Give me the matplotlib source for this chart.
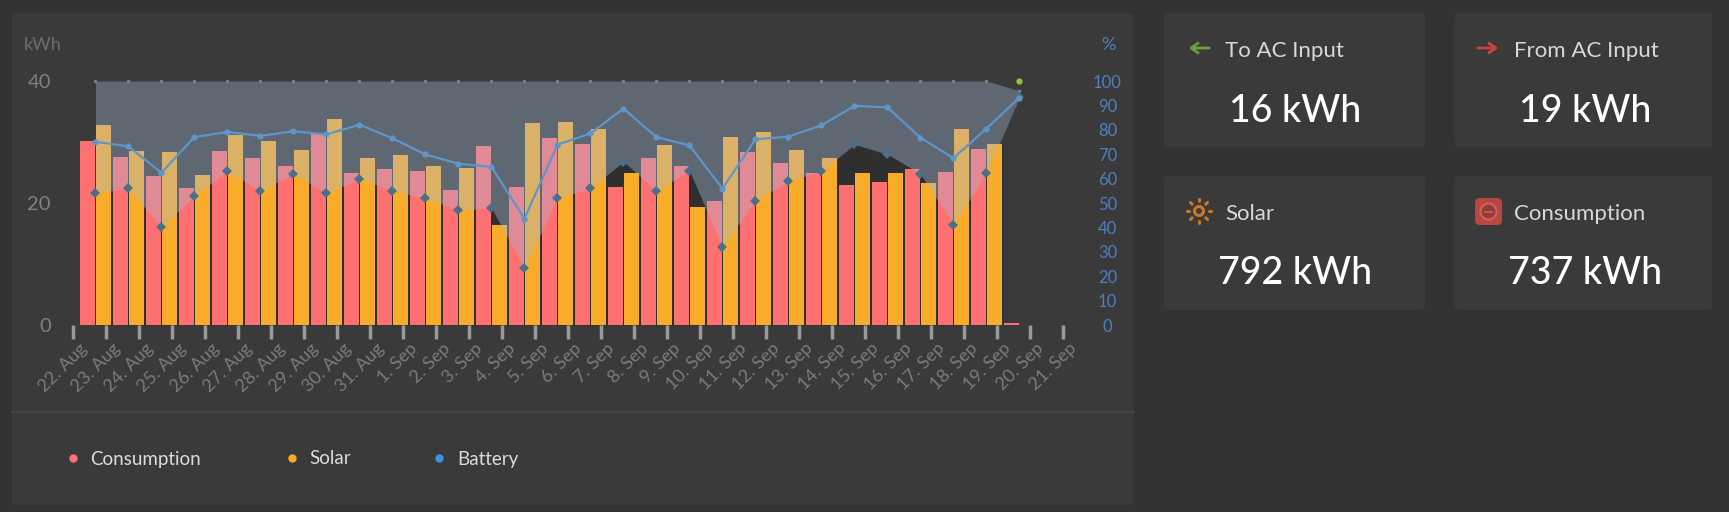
#!/usr/bin/env python3
# -*- coding: utf-8 -*-
import matplotlib
matplotlib.use('Agg')
from matplotlib import pyplot as plt
from matplotlib.patches import FancyBboxPatch, Circle
from matplotlib.transforms import ScaledTranslation

days = ['22. Aug', '23. Aug', '24. Aug', '25. Aug', '26. Aug', '27. Aug', '28. Aug', '29. Aug',
        '30. Aug', '31. Aug', '1. Sep', '2. Sep', '3. Sep', '4. Sep', '5. Sep', '6. Sep', '7. Sep',
        '8. Sep', '9. Sep', '10. Sep', '11. Sep', '12. Sep', '13. Sep', '14. Sep', '15. Sep',
        '16. Sep', '17. Sep', '18. Sep', '19. Sep', '20. Sep', '21. Sep']
consumption = [30.2, 27.5, 24.4, 22.4, 28.5, 27.3, 26.0, 31.3, 25.0, 25.5, 25.3, 22.1, 29.4, 22.7, 30.7,
               29.7, 22.7, 27.3, 26.1, 20.3, 28.3, 26.5, 25.0, 23.0, 23.4, 25.6, 25.1, 28.9, 0.4]
solar = [32.8, 28.6, 28.3, 24.6, 31.1, 30.2, 28.7, 33.8, 27.3, 27.8, 26.1, 25.8, 16.4, 33.1, 33.3,
         32.1, 24.9, 29.5, 19.3, 30.9, 31.6, 28.7, 27.3, 24.9, 25.0, 23.2, 32.1, 29.7, 0.0]
lower = [21.6, 22.4, 16.0, 21.2, 25.2, 22.0, 24.8, 21.6, 24.0, 22.0, 20.8, 18.8, 19.2, 9.3, 20.8,
         22.4, 26.8, 22.0, 25.3, 12.8, 20.4, 23.6, 25.2, 29.6, 28.0, 24.8, 16.4, 24.9, 37.3]
upper = [40.0] * 28 + [38.4]
battery = [75.1, 73.2, 62.4, 77.0, 79.1, 77.5, 79.4, 78.1, 82.1, 76.5, 69.9, 66.1, 64.8, 43.6, 73.9,
           78.5, 88.7, 77.0, 73.6, 55.9, 76.1, 77.2, 81.8, 89.8, 89.2, 76.8, 68.4, 80.5, 93.2]
ytick_left = [0, 20, 40]
ytick_right = [0, 10, 20, 30, 40, 50, 60, 70, 80, 90, 100]

W, H = 1729, 512
PAGE = '#333333'
PANEL = '#3a3a3a'
RED = '#ff7070'
ORANGE = '#f9ab2a'
BLUE = '#5f95c8'
plt.rcParams['font.family'] = ['Lato', 'DejaVu Sans']

fig = plt.figure(figsize=(W / 100, H / 100), dpi=100, facecolor=PAGE)

# page layer in pixels
bg = fig.add_axes([0, 0, 1, 1])
bg.set_xlim(0, W)
bg.set_ylim(H, 0)
bg.axis('off')


def panel(x0, y0, x1, y1):
    bg.add_patch(FancyBboxPatch((x0 + 4, y0 + 4), x1 - x0 - 8, y1 - y0 - 8,
                                boxstyle='round,pad=4,rounding_size=4', fc=PANEL, ec='none'))


panel(12, 13, 1134, 505)
panel(1164, 13, 1425, 147)
panel(1454, 13, 1712, 147)
panel(1164, 176, 1425, 310)
panel(1454, 176, 1712, 310)
bg.plot([12, 1134], [412, 412], color='#454545', lw=1.5)


def card(xt, xv, yt, yv, title, value):
    bg.text(xt, yt, title, color='#d8d8d8', fontsize=16, va='center', ha='left')
    bg.text(xv, yv, value, color='#ffffff', fontsize=27, va='center', ha='center', fontweight='medium')


card(1225, 1295, 51, 111, 'To AC Input', '16 kWh')
card(1514, 1585, 51, 111, 'From AC Input', '19 kWh')
card(1225, 1295, 214, 274, 'Solar', '792 kWh')
card(1514, 1585, 214, 274, 'Consumption', '737 kWh')

# card icons
bg.annotate('', xy=(1186, 48), xytext=(1212, 48),
            arrowprops=dict(arrowstyle='->,head_width=0.35,head_length=0.5', color='#6f9e3f', lw=2))
bg.annotate('', xy=(1501, 48), xytext=(1475, 48),
            arrowprops=dict(arrowstyle='->,head_width=0.35,head_length=0.5', color='#c8453f', lw=2))
bg.add_patch(Circle((1199, 211), 4.5, fc='none', ec='#c87828', lw=2.2))
for dx, dy in [(0, -12), (0, 12), (12, 0), (-12, 0), (8.5, 8.5), (-8.5, 8.5), (8.5, -8.5), (-8.5, -8.5)]:
    bg.plot([1199 + dx * 0.8, 1199 + dx], [211 + dy * 0.8, 211 + dy],
            color='#c87828', lw=2.2, solid_capstyle='round')
bg.add_patch(FancyBboxPatch((1479, 202), 19, 19, boxstyle='round,pad=4,rounding_size=5',
                            fc='#b8473f', ec='none'))
bg.add_patch(Circle((1488.5, 211.5), 8, fc='#8f3f3a', ec='#d0605a', lw=1.5))
bg.plot([1485, 1492], [211.5, 211.5], color='#d0605a', lw=1.2)

# legend
for x, c, xt, name in [(73, RED, 90, 'Consumption'), (292, ORANGE, 309, 'Solar'), (439, '#3f8fe8', 457, 'Battery')]:
    bg.plot([x], [458], 'o', color=c, ms=6, mew=0)
    bg.text(xt, 459, name, color='#dcdcdc', fontsize=13.5, va='center', ha='left')

# chart, x axis runs in tick steps: 22. Aug = 0
ax = fig.add_axes([73 / W, 1 - 325 / H, 990 / W, 244 / H], facecolor='none')
ax.set_xlim(0, 30)
ax.set_ylim(0, 40)
for s in ax.spines.values():
    s.set_visible(False)

xs = [i + 0.68 for i in range(len(consumption))]
ax.fill_between(xs[:-1], 0, lower[:-1], color='#2f2f2f', lw=0, zorder=1)
ax.vlines(xs[27] + 0.51, 0, solar[27], color='#2b3542', lw=1.5, zorder=1)
ax.bar([x - 0.24 for x in xs], consumption, width=0.45, color=RED, zorder=2)
ax.bar([x + 0.25 for x in xs], solar, width=0.46, color=ORANGE, zorder=2)
ax.fill_between(xs, lower, upper, color='#a4bddd', alpha=0.35, lw=0, zorder=3)
ax.plot(xs, upper, 'o', color='#7a8288', ms=2.5, mew=0, zorder=4, clip_on=False)
ax.plot(xs, lower, 'D', color='#4a6f8a', ms=5, mew=0, zorder=4, clip_on=False)
ax.plot(xs[-1], 40, 'o', color='#8fc13c', ms=4.5, mew=0, zorder=5, clip_on=False)

ax.set_xticks(range(len(days)))
ax.set_xticklabels(days, rotation=45, ha='right', rotation_mode='anchor', color='#7b7b7b', fontsize=13)
ax.tick_params(axis='x', length=10, width=2.5, color='#9a9a9a', pad=1)
shift = ScaledTranslation(4 / 72, 0, fig.dpi_scale_trans)
for lb in ax.get_xticklabels():
    lb.set_transform(lb.get_transform() + shift)
ax.set_yticks(ytick_left)
ax.tick_params(axis='y', length=0, labelcolor='#808080', labelsize=14.5, pad=16)

ax2 = ax.twinx()
ax2.set_xlim(0, 30)
ax2.set_ylim(0, 100)
for s in ax2.spines.values():
    s.set_visible(False)
ax2.plot(xs, battery, '-o', color=BLUE, lw=1.6, ms=4.5, mew=0, zorder=6, clip_on=False)
ax2.set_yticks(ytick_right)
ax2.tick_params(axis='y', length=0, labelcolor='#4f7fc0', labelsize=12, pad=32)
for lb in ax2.get_yticklabels():
    lb.set_ha('center')

bg.text(24, 45, 'kWh', color='#6e6e6e', fontsize=13, va='center', ha='left')
bg.text(1108, 45, '%', color='#4f7fc0', fontsize=13, va='center', ha='center')

fig.savefig('out.png', dpi=100, facecolor=PAGE)
